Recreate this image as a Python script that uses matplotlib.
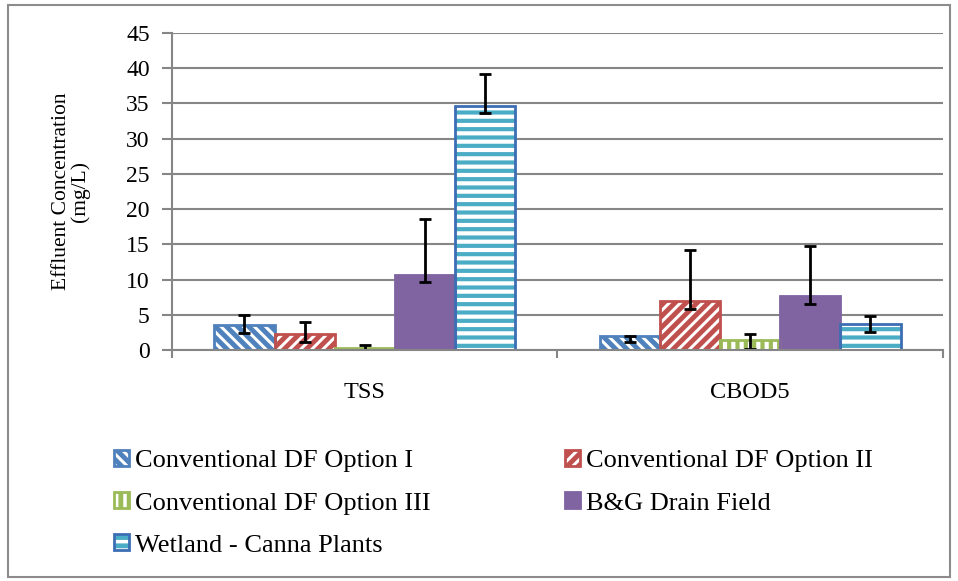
import matplotlib
matplotlib.use("Agg")
import matplotlib.pyplot as plt
import numpy as np
from matplotlib.patches import Rectangle
from matplotlib.legend_handler import HandlerTuple

plt.rcParams['font.family'] = ['Liberation Serif', 'DejaVu Serif']
plt.rcParams['hatch.linewidth'] = 3.5

# ---- data ----
categories = ["TSS", "CBOD5"]
series_names = [
    "Conventional DF Option I",
    "Conventional DF Option II",
    "Conventional DF Option III",
    "B&G Drain Field",
    "Wetland - Canna Plants",
]
# mean effluent concentration (mg/L) per series, [TSS, CBOD5]
means = [
    [3.6, 2.0],
    [2.2, 7.0],
    [0.3, 1.4],
    [10.6, 7.6],
    [34.7, 3.7],
]
err_low = [
    [1.2, 0.9],
    [1.0, 1.2],
    [0.3, 1.2],
    [1.0, 1.0],
    [1.1, 1.2],
]
err_high = [
    [1.4, 0.0],
    [1.8, 7.2],
    [0.4, 0.9],
    [8.0, 7.1],
    [4.5, 1.1],
]
y_ticks = [0, 5, 10, 15, 20, 25, 30, 35, 40, 45]

# ---- styles ----
styles = [
    dict(face="white", hatch_col="#4F81BD", edge="#4F81BD", hatch="\\\\\\"),
    dict(face="white", hatch_col="#C0504D", edge="#C0504D", hatch="///"),
    dict(face="white", hatch_col="#9BBB59", edge="#9BBB59", hatch="||"),
    dict(face="#8064A2", hatch_col="#8064A2", edge="#8064A2", hatch=None),
    dict(face="white", hatch_col="#4BACC6", edge="#3C6EB4", hatch="--"),
]

fig = plt.figure(figsize=(9.58, 5.81), dpi=100)
fig.patches.append(Rectangle((0.008, 0.007), 0.984, 0.985, transform=fig.transFigure,
                             fill=False, edgecolor="#8C8C8C", linewidth=1.5))

ax = fig.add_axes([0.1795, 0.3976, 0.8048, 0.5456])

x = np.arange(len(categories))
n = len(series_names)
width = 0.156
handles = []
for i, name in enumerate(series_names):
    st = styles[i]
    pos = x + (i - (n - 1) / 2) * width
    vals = means[i]
    bars = ax.bar(pos, vals, width, color=st["face"], edgecolor=st["hatch_col"],
                  hatch=st["hatch"], linewidth=0 if st["hatch"] else 1, label=name, zorder=2)
    for b in bars:
        if hasattr(b, "set_hatch_linewidth"):
            b.set_hatch_linewidth(3.0 if st["hatch"] in ("--", "||") else 3.5)
    # outline drawn separately so the border can differ from the hatch colour
    outline = ax.bar(pos, vals, width, fill=False, edgecolor=st["edge"], linewidth=2, zorder=3)
    ax.errorbar(pos, vals, yerr=[err_low[i], err_high[i]], fmt="none", ecolor="black",
                elinewidth=2, capsize=4.5, capthick=2, zorder=4)
    handles.append((bars, outline))

ax.set_xlim(-0.5, len(categories) - 0.5)
ax.set_ylim(0, 45)
ax.set_yticks(y_ticks)
ax.set_xticks(x)
ax.set_xticklabels(categories, fontsize=17.5)
ax.tick_params(axis="x", length=0, pad=23)
ax.set_xticks(np.arange(len(categories) + 1) - 0.5, minor=True)
ax.tick_params(axis="x", which="minor", length=6, width=1.5, color="#868686", direction="out")
ax.tick_params(axis="y", labelsize=17, length=7, width=1.5, color="#868686", direction="out", pad=9)
ax.yaxis.grid(True, color="#868686", linewidth=1.5, zorder=0)
ax.set_axisbelow(True)
for s in ["top", "right"]:
    ax.spines[s].set_visible(False)
for s in ["left", "bottom"]:
    ax.spines[s].set_color("#868686")
    ax.spines[s].set_linewidth(1.5)
ax.spines["bottom"].set_zorder(5)

ax.set_ylabel("Effluent Concentration\n(mg/L)", fontsize=15.5, linespacing=1.0)
ax.yaxis.set_label_coords(-0.106, 0.5)

# legend filled row by row: two columns
order = [0, 2, 4, 1, 3]
fig.legend(handles=[handles[k] for k in order], labels=[series_names[k] for k in order],
           handler_map={tuple: HandlerTuple(ndivide=1)},
           loc="upper left", bbox_to_anchor=(0.108, 0.2434), ncol=2, frameon=False,
           fontsize=19, handlelength=0.55, handleheight=0.55, handletextpad=0.25,
           labelspacing=0.75, columnspacing=5.1, borderaxespad=0)

fig.savefig("out.png", dpi=100)
